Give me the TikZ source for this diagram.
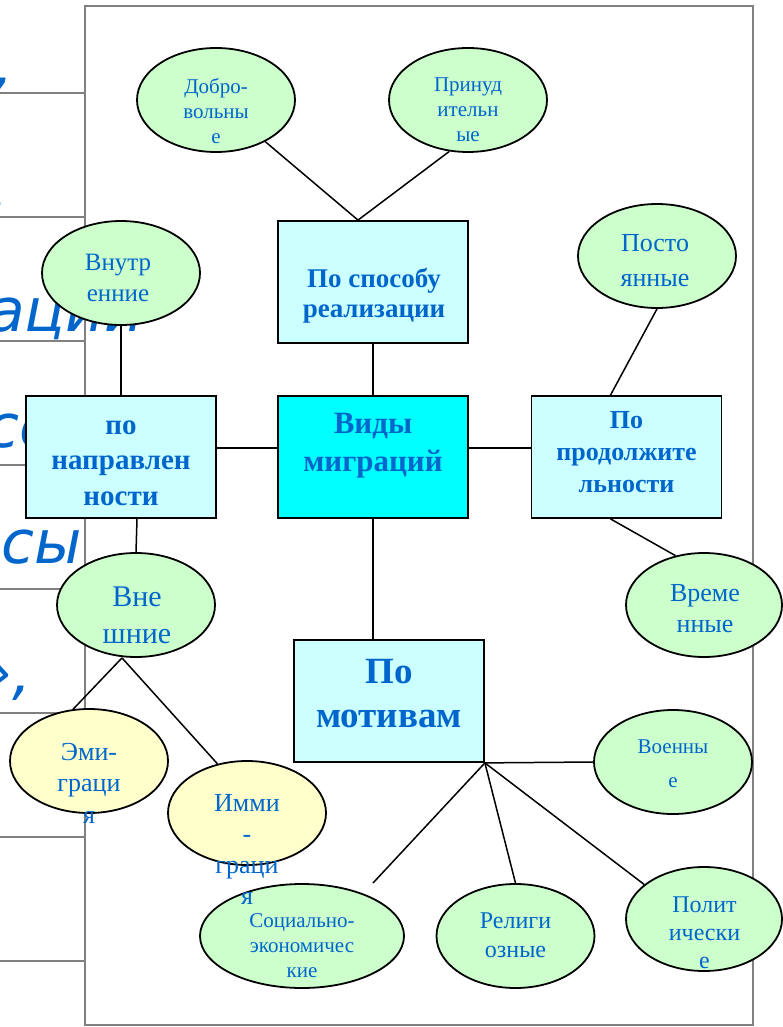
\documentclass[tikz,border=0pt]{standalone}
\usepackage{fontspec}
\setmainfont{Liberation Serif}
\newfontfamily\slidefont{DejaVu Sans}
\usetikzlibrary{shapes.geometric}
\definecolor{txtblue}{RGB}{0,102,204}
\definecolor{ovalgreen}{RGB}{204,255,204}
\definecolor{ovalyellow}{RGB}{255,255,204}
\definecolor{boxcyan}{RGB}{204,255,255}
\definecolor{maincyan}{RGB}{0,255,255}
\definecolor{framegray}{RGB}{128,128,128}
\newcommand\setfs[2]{\fontsize{#1}{#2}\selectfont}

\tikzset{
  oval/.style={ellipse, draw=black, line width=1.8pt, fill=ovalgreen,
    minimum width=158pt, minimum height=104pt, inner sep=0pt},
  yoval/.style={oval, fill=ovalyellow},
  kind/.style={rectangle, draw=black, line width=1.8pt, fill=boxcyan,
    minimum width=190pt, minimum height=122pt, inner sep=0pt},
  otext/.style={text=txtblue, align=center, inner sep=0pt},
  frag/.style={text=txtblue, inner sep=0pt, font=\slidefont\itshape\setfs{60}{72}},
  link/.style={line width=1.5pt},
}

\begin{document}
\begin{tikzpicture}[x=1pt, y=-1pt]
  \useasboundingbox (0,0) rectangle (782,1027);

  % slide behind
  \foreach \y in {93,217,...,961}
    \draw[framegray, line width=2pt] (0,\y) -- (85,\y);
  \node[frag, anchor=base west] (frag1) at (-6,86) {,};
  \node[frag, anchor=base west] (frag2) at (-11,211) {,};
  \node[frag, anchor=base west] (frag3) at (-12,331) {аций};
  \node[frag, anchor=base west] (frag4) at (-14,447) {со};
  \node[frag, anchor=base east] (frag5) at (82,563) {сы};
  \node[frag, anchor=base east] (frag6) at (32,693) {»,};
  \draw[framegray, line width=2pt] (85,6) rectangle (753,1025);

  % Center
  \node[kind, fill=maincyan] (vidy) at (373,457) {};

  % Realisation
  \node[kind] (sposob) at (373,282) {};
  \node[oval] (dobro) at (216,100) {};
  \node[oval] (prinud) at (468,100) {};

  % Direction
  \node[kind] (napr) at (121,457) {};
  \node[oval] (vnutr) at (121,273) {};
  \node[oval] (vne) at (136,605) {};
  \node[yoval] (emi) at (89,761) {};
  \node[yoval] (immi) at (247,813) {};

  % Duration
  \node[kind] (prod) at (626.5,457) {};
  \node[oval] (posto) at (657,256) {};
  \node[oval, minimum width=156pt] (vreme) at (704,605) {};

  % Motives
  \node[kind] (motiv) at (389,701) {};
  \node[oval] (voen) at (673,762) {};
  \node[oval, minimum width=204pt] (soc) at (302,936) {};
  \node[oval] (relig) at (515.5,936) {};
  \node[oval, minimum width=156pt] (polit) at (704,919) {};
  \coordinate (socend) at (373,883);

  % Links
  \draw[link] (dobro) -- ([xshift=-15pt]sposob.north);
  \draw[link] (prinud.-110) -- ([xshift=-15pt]sposob.north);
  \draw[link] (sposob) -- (vidy);
  \draw[link] ([yshift=9pt]vidy.west) -- ([yshift=9pt]napr.east);
  \draw[link] ([yshift=9pt]vidy.east) -- ([yshift=9pt]prod.west);
  \draw[link] (vidy.south) -- ([xshift=-16pt]motiv.north);
  \draw[link] (vnutr) -- (napr);
  \draw[link] ([xshift=16pt]napr.south) -- (vne.north);
  \draw[link] ([xshift=-14pt]vne.south) -- (emi.107);
  \draw[link] ([xshift=-14pt]vne.south) -- (immi.121);
  \draw[link] (posto.south) -- ([xshift=-16pt]prod.north);
  \draw[link] ([xshift=-16pt]prod.south) -- (vreme.120);
  \draw[link] (motiv.south east) -- (voen.west);
  \draw[link] (motiv.south east) -- (socend);
  \draw[link] (motiv.south east) -- (relig.north);
  \draw[link] (motiv.south east) -- (polit.150);

  % Labels
  \node[otext, font=\bfseries\setfs{31}{38}] (vidytxt) at (373,446) {Виды\\миграций};
  \node[otext, font=\bfseries\setfs{27}{30}] (sposobtxt) at (374,296) {По способу\\реализации};
  \node[otext, font=\setfs{21}{25}] (dobrotxt) at (216,111) {Добро-\\вольны\\е};
  \node[otext, font=\setfs{21}{25}] (prinudtxt) at (468,110) {Принуд\\ительн\\ые};
  \node[otext, font=\bfseries\setfs{29}{35.5}] (naprtxt) at (121,463) {по\\направлен\\ности};
  \node[otext, font=\setfs{25}{31}] (vnutrtxt) at (118,278) {Внутр\\енние};
  \node[otext, font=\setfs{30}{37}] (vnetxt) at (137,615) {Вне\\шние};
  \node[otext, font=\setfs{26}{31.5}] (emitxt) at (89,783) {Эми-\\граци\\я};
  \node[otext, font=\setfs{26}{31}] (immitxt) at (247,849) {Имми\\-\\граци\\я};
  \node[otext, font=\bfseries\setfs{26}{32}] (prodtxt) at (626.5,452) {По\\продолжите\\льности};
  \node[otext, font=\setfs{26}{35}] (postotxt) at (655,261) {Посто\\янные};
  \node[otext, font=\setfs{26}{31}] (vremetxt) at (705,609) {Време\\нные};
  \node[otext, font=\bfseries\setfs{37}{44}] (motivtxt) at (389,694) {По\\мотивам};
  \node[otext, font=\setfs{21}{34}] (voentxt) at (673,764) {Военны\\е};
  \node[otext, font=\setfs{21}{25}] (soctxt) at (302,946) {Социально-\\экономичес\\кие};
  \node[otext, font=\setfs{24}{29}] (religtxt) at (515.5,935) {Религи\\озные};
  \node[otext, font=\setfs{24}{28}] (polittxt) at (704.5,933) {Полит\\ически\\е};
\end{tikzpicture}
\end{document}
